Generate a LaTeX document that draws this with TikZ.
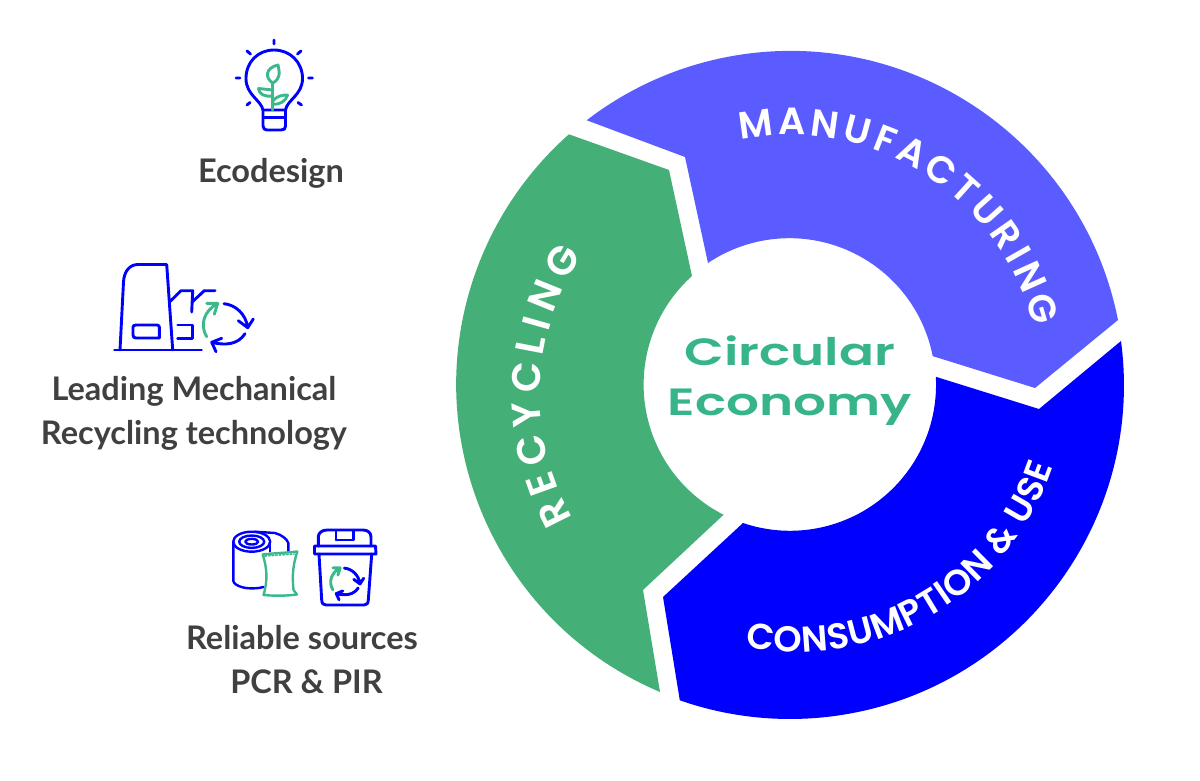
\documentclass[tikz,border=0pt]{standalone}
\usepackage{fontspec}
\usetikzlibrary{decorations.text}
\setmainfont{Lato}
\newfontfamily\ringfont{Poppins SemiBold}
\newfontfamily\widefont[FakeStretch=1.36]{Poppins SemiBold}
\definecolor{ringgreen}{HTML}{45AF78}
\definecolor{ringpurple}{HTML}{5A5CFF}
\definecolor{ringblue}{HTML}{0000FF}
\definecolor{icongreen}{HTML}{3CB98B}
\definecolor{titlegreen}{HTML}{38B48A}
\definecolor{labelgray}{HTML}{404040}
\tikzset{
  iconblue/.style={draw=ringblue,line width=2.9pt,line cap=round,line join=round},
  icongrn/.style={draw=icongreen,line width=2.9pt,line cap=round,line join=round},
  caption/.style={font=\fontsize{32.5}{44}\selectfont\bfseries,text=labelgray,align=center,inner sep=0pt},
  ringtext/.style={decorate,decoration={text along path,text color=white,
      text align={fit to path},text={#1}}},
  recycleicon/.pic={
    \draw[icongrn] (-18.3,15) .. controls (-26,2) and (-20,-11) .. (-8,-18)
      (-18.3,-18.4) -- (-7.3,-18.4) -- (-10.7,-7.4);
    \draw[iconblue] (-1,-18) .. controls (10,-17) and (21,-8) .. (22.7,6)
      (13.3,-1) -- (22.7,6) -- (28.3,-2.7);
    \draw[iconblue] (20,12) .. controls (13,23) and (0,24) .. (-13.3,20.6)
      (-3.3,16.6) -- (-13.3,20.6) -- (-9,30);
  }
}
\begin{document}
\begin{tikzpicture}[x=1pt,y=-1pt]
\useasboundingbox (0,0) rectangle (1200,781);
% ring
\fill[ringpurple] (1118,320) arc[start angle=-11.21,end angle=-127.59,radius=334]
  -- (685,157) -- (708,263) arc[start angle=-123.9,end angle=-11.08,radius=146]
  -- (1035,388) -- cycle;
\fill[ringblue] (1121,341) arc[start angle=-7.57,end angle=109.25,radius=334]
  -- (663,597) -- (743,523) arc[start angle=108.8,end angle=-3.14,radius=146]
  -- (1039,409) -- cycle;
\fill[ringgreen] (660,692) arc[start angle=-247.05,end angle=-131.5,radius=334]
  -- (669,170) -- (692,276) arc[start angle=-131.96,end angle=-243.1,radius=146]
  -- (643,590) -- cycle;
% ring labels
\path[ringtext={|\fontsize{38}{38}\ringfont|MANUFACTURING}]
  (790,385) ++(-101.5:250) arc[start angle=-101.5,end angle=-13.5,radius=250];
\path[ringtext={|\fontsize{40}{40}\ringfont|RECYCLING}]
  (790,395) ++(-209.6:250) arc[start angle=-209.6,end angle=-146,radius=250];
\path[ringtext={|\fontsize{36}{36}\ringfont|CONSUMPTION {\&} USE}]
  (795,380) ++(100.5:272) arc[start angle=100.5,end angle=18.5,radius=272];
% centre
\node[font=\fontsize{38}{50}\selectfont\widefont,text=titlegreen,align=center,inner sep=0pt] (title) at (790,381) {Circular\\Economy};
% captions
\node[caption] (eco) at (271,173) {Ecodesign};
\node[caption] (mech) at (194,413) {Leading Mechanical\\Recycling technology};
\node[caption] (src) at (302,660) {Reliable sources\\\hspace*{9pt}PCR \& PIR};
% bulb icon
\draw[iconblue] (263,110) .. controls (261,100) and (246,95) .. (246,78.5)
  .. controls (246,62) and (258,50) .. (274,50)
  .. controls (290,50) and (302.5,62) .. (302.5,78.5)
  .. controls (302.5,95) and (287,100) .. (285.5,110) -- cycle;
\draw[iconblue] (263,110) -- (263,126) .. controls (263,129) and (265,130) .. (267,130) -- (281,130)
  .. controls (284,130) and (285.5,129) .. (285.5,126) -- (285.5,110) (263,117.5) -- (285.5,117.5);
\draw[iconblue] (274,40) -- (274,44) (236,78) -- (240,78) (308.5,78) -- (312.5,78)
  (247,51) -- (250.5,54) (301,51) -- (297.5,54) (247,105) -- (250,102.5) (301.5,105) -- (298,102.5);
\draw[icongrn] (272.7,110) -- (272.7,83);
\draw[icongrn] (272.7,83) .. controls (265,78) and (265,68) .. (278,65) .. controls (280,74) and (280,79) .. (272.7,83) -- cycle;
\draw[icongrn] (272.7,90) -- (258.5,88.5) .. controls (259,94) and (264,97) .. (272.7,96);
\draw[icongrn] (272.7,101) .. controls (277,96) and (282,95) .. (287.5,95) .. controls (286,101) and (280,105) .. (272.7,104);
% factory icon
\draw[iconblue] (114.5,350) -- (201.5,350);
\draw[iconblue] (120,350) -- (123.5,282) .. controls (124,271) and (130,264.5) .. (138,264.5) -- (166.7,264.5) -- (172.7,350);
\draw[iconblue] (136,325) -- (157,325) .. controls (158.5,325) and (159.3,326) .. (159.3,327) -- (159.3,338) -- (136,338) .. controls (134,338) and (133,337) .. (133,335) -- (133,327) .. controls (133,326) and (134,325) .. (136,325) -- cycle;
\draw[iconblue] (170,301.5) -- (181,290.7) -- (192.7,290.7) -- (191.7,312);
\draw[iconblue] (192.7,301.5) -- (204.3,290.7) -- (215,290.7);
\draw[iconblue] (177.7,325) -- (192.3,325) -- (192.3,338.3) -- (177.7,338.3);
\pic at (225,321.7) {recycleicon};
% roll icon
\draw[iconblue,line width=2.4pt] (251.7,541.7) ellipse[x radius=18.5,y radius=10];
\draw[iconblue,line width=2.4pt] (251.7,541.7) ellipse[x radius=12.5,y radius=6.2];
\draw[iconblue,line width=2.4pt] (251.7,541.7) ellipse[x radius=6.5,y radius=2.8];
\draw[iconblue,line width=2.4pt] (233.3,541.7) -- (233.3,581) .. controls (234,586) and (248,591) .. (263.5,587);
\draw[iconblue,line width=2.4pt] (255,531.7) -- (275,533) .. controls (282,535) and (287,539) .. (288.3,543) -- (288.3,551.5);
\draw[iconblue,line width=2.4pt] (270,541.7) -- (270,551.5);
\draw[icongrn,line width=2.4pt] (262.7,554.5) .. controls (275,553) and (285,553) .. (297.3,551.5)
  .. controls (293,565) and (292,575) .. (293.5,590) -- (297,594.5)
  .. controls (285,596) and (275,596) .. (263.5,595) .. controls (268,580) and (267,568) .. (262.7,554.5) -- cycle;
\draw[icongrn,line width=1.6pt,dotted] (265,556) -- (294,554);
% bin icon
\draw[iconblue] (314.5,546) -- (375.5,546) -- (376,554) -- (314.5,554) -- cycle;
\draw[iconblue] (318.3,546) -- (318.3,537) .. controls (318.3,533) and (322,530) .. (327,530) -- (363,530) .. controls (368,530) and (371,533) .. (371,537) -- (371,546);
\draw[iconblue] (336,540) -- (336,531) (353.5,531) -- (353.5,540) -- (336,540);
\draw[iconblue] (319,554) -- (321.7,600) .. controls (322,603.5) and (323,605) .. (326,605) -- (364,605) .. controls (367,605) and (368,603.5) .. (368.3,600) -- (371.7,554);
\pic[scale=0.66] at (345,580) {recycleicon};
\end{tikzpicture}
\end{document}
